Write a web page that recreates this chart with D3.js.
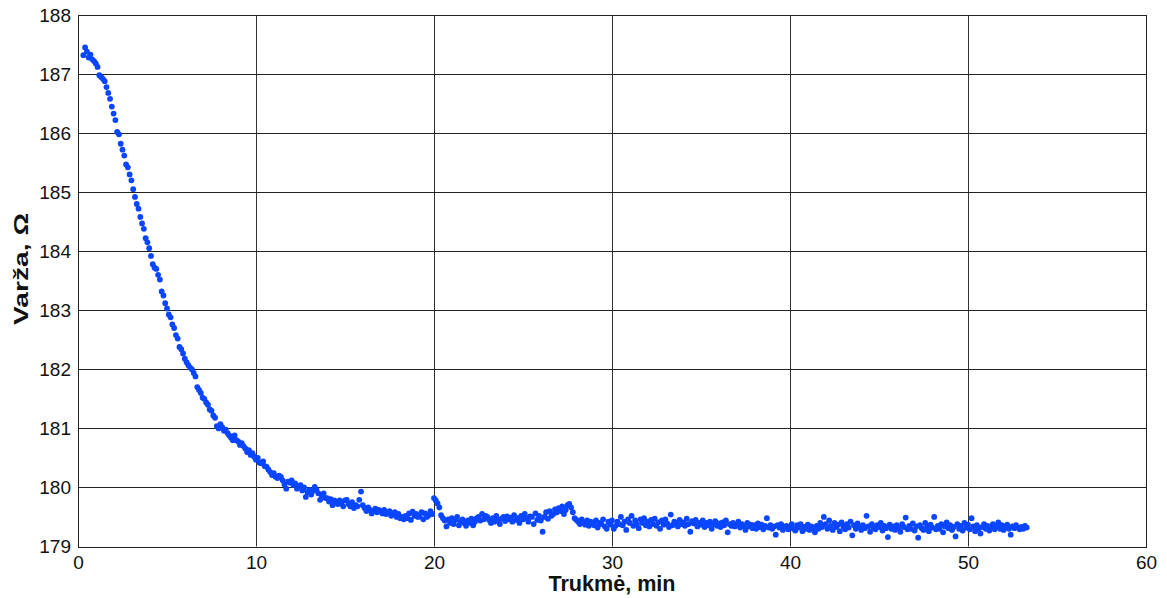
<!DOCTYPE html>
<html>
<head>
<meta charset="UTF-8">
<title>Varža vs trukmė</title>
<script src="https://d3js.org/d3.v7.min.js"></script>
<style>
  body { margin: 0; background: #fff; }
  svg { display: block; font-family: "Liberation Sans", Arial, sans-serif; }
</style>
</head>
<body>
<div id="chart"></div>
<script>
// axis ticks
var xTicks = [0, 10, 20, 30, 40, 50, 60];
var yTicks = [179, 180, 181, 182, 183, 184, 185, 186, 187, 188];

// measurement time, min (one row per minute)
var timeMin = [
  0.3, 0.4, 0.5, 0.6, 0.7, 0.8, 0.9,
  1.0, 1.1, 1.2, 1.3, 1.4, 1.5, 1.6, 1.7, 1.8, 1.9,
  2.0, 2.1, 2.2, 2.3, 2.4, 2.5, 2.6, 2.7, 2.8, 2.9,
  3.0, 3.1, 3.2, 3.3, 3.4, 3.5, 3.6, 3.7, 3.8, 3.9,
  4.0, 4.1, 4.2, 4.3, 4.4, 4.5, 4.6, 4.7, 4.8, 4.9,
  5.0, 5.1, 5.2, 5.3, 5.4, 5.5, 5.6, 5.7, 5.8, 5.9,
  6.0, 6.1, 6.2, 6.3, 6.4, 6.5, 6.6, 6.7, 6.8, 6.9,
  7.0, 7.1, 7.2, 7.3, 7.4, 7.5, 7.6, 7.7, 7.8, 7.9,
  8.0, 8.1, 8.2, 8.3, 8.4, 8.5, 8.6, 8.7, 8.8, 8.9,
  9.0, 9.1, 9.2, 9.3, 9.4, 9.5, 9.6, 9.7, 9.8, 9.9,
  10.0, 10.1, 10.2, 10.3, 10.4, 10.5, 10.6, 10.7, 10.8, 10.9,
  11.0, 11.1, 11.2, 11.3, 11.4, 11.5, 11.6, 11.7, 11.8, 11.9,
  12.0, 12.1, 12.2, 12.3, 12.4, 12.5, 12.6, 12.7, 12.8, 12.9,
  13.0, 13.1, 13.2, 13.3, 13.4, 13.5, 13.6, 13.7, 13.8, 13.9,
  14.0, 14.1, 14.2, 14.3, 14.4, 14.5, 14.6, 14.7, 14.8, 14.9,
  15.0, 15.1, 15.2, 15.3, 15.4, 15.5, 15.6, 15.7, 15.8, 15.9,
  16.0, 16.1, 16.2, 16.3, 16.4, 16.5, 16.6, 16.7, 16.8, 16.9,
  17.0, 17.1, 17.2, 17.3, 17.4, 17.5, 17.6, 17.7, 17.8, 17.9,
  18.0, 18.1, 18.2, 18.3, 18.4, 18.5, 18.6, 18.7, 18.8, 18.9,
  19.0, 19.1, 19.2, 19.3, 19.4, 19.5, 19.6, 19.7, 19.8, 19.9,
  20.0, 20.1, 20.2, 20.3, 20.4, 20.5, 20.6, 20.7, 20.8, 20.9,
  21.0, 21.1, 21.2, 21.3, 21.4, 21.5, 21.6, 21.7, 21.8, 21.9,
  22.0, 22.1, 22.2, 22.3, 22.4, 22.5, 22.6, 22.7, 22.8, 22.9,
  23.0, 23.1, 23.2, 23.3, 23.4, 23.5, 23.6, 23.7, 23.8, 23.9,
  24.0, 24.1, 24.2, 24.3, 24.4, 24.5, 24.6, 24.7, 24.8, 24.9,
  25.0, 25.1, 25.2, 25.3, 25.4, 25.5, 25.6, 25.7, 25.8, 25.9,
  26.0, 26.1, 26.2, 26.3, 26.4, 26.5, 26.6, 26.7, 26.8, 26.9,
  27.0, 27.1, 27.2, 27.3, 27.4, 27.5, 27.6, 27.7, 27.8, 27.9,
  28.0, 28.1, 28.2, 28.3, 28.4, 28.5, 28.6, 28.7, 28.8, 28.9,
  29.0, 29.1, 29.2, 29.3, 29.4, 29.5, 29.6, 29.7, 29.8, 29.9,
  30.0, 30.1, 30.2, 30.3, 30.4, 30.5, 30.6, 30.7, 30.8, 30.9,
  31.0, 31.1, 31.2, 31.3, 31.4, 31.5, 31.6, 31.7, 31.8, 31.9,
  32.0, 32.1, 32.2, 32.3, 32.4, 32.5, 32.6, 32.7, 32.8, 32.9,
  33.0, 33.1, 33.2, 33.3, 33.4, 33.5, 33.6, 33.7, 33.8, 33.9,
  34.0, 34.1, 34.2, 34.3, 34.4, 34.5, 34.6, 34.7, 34.8, 34.9,
  35.0, 35.1, 35.2, 35.3, 35.4, 35.5, 35.6, 35.7, 35.8, 35.9,
  36.0, 36.1, 36.2, 36.3, 36.4, 36.5, 36.6, 36.7, 36.8, 36.9,
  37.0, 37.1, 37.2, 37.3, 37.4, 37.5, 37.6, 37.7, 37.8, 37.9,
  38.0, 38.1, 38.2, 38.3, 38.4, 38.5, 38.6, 38.7, 38.8, 38.9,
  39.0, 39.1, 39.2, 39.3, 39.4, 39.5, 39.6, 39.7, 39.8, 39.9,
  40.0, 40.1, 40.2, 40.3, 40.4, 40.5, 40.6, 40.7, 40.8, 40.9,
  41.0, 41.1, 41.2, 41.3, 41.4, 41.5, 41.6, 41.7, 41.8, 41.9,
  42.0, 42.1, 42.2, 42.3, 42.4, 42.5, 42.6, 42.7, 42.8, 42.9,
  43.0, 43.1, 43.2, 43.3, 43.4, 43.5, 43.6, 43.7, 43.8, 43.9,
  44.0, 44.1, 44.2, 44.3, 44.4, 44.5, 44.6, 44.7, 44.8, 44.9,
  45.0, 45.1, 45.2, 45.3, 45.4, 45.5, 45.6, 45.7, 45.8, 45.9,
  46.0, 46.1, 46.2, 46.3, 46.4, 46.5, 46.6, 46.7, 46.8, 46.9,
  47.0, 47.1, 47.2, 47.3, 47.4, 47.5, 47.6, 47.7, 47.8, 47.9,
  48.0, 48.1, 48.2, 48.3, 48.4, 48.5, 48.6, 48.7, 48.8, 48.9,
  49.0, 49.1, 49.2, 49.3, 49.4, 49.5, 49.6, 49.7, 49.8, 49.9,
  50.0, 50.1, 50.2, 50.3, 50.4, 50.5, 50.6, 50.7, 50.8, 50.9,
  51.0, 51.1, 51.2, 51.3, 51.4, 51.5, 51.6, 51.7, 51.8, 51.9,
  52.0, 52.1, 52.2, 52.3, 52.4, 52.5, 52.6, 52.7, 52.8, 52.9,
  53.0, 53.1, 53.2, 53.3
];

// resistance, ohm (same rows as timeMin)
var resistance = [
  187.32, 187.45, 187.38, 187.28, 187.33, 187.25, 187.22,
  187.18, 187.12, 186.98, 186.95, 186.92, 186.88, 186.78, 186.68, 186.58, 186.45,
  186.33, 186.22, 186.02, 185.98, 185.82, 185.72, 185.62, 185.47, 185.42, 185.30,
  185.20, 185.05, 184.92, 184.80, 184.72, 184.58, 184.47, 184.38, 184.22, 184.15,
  184.05, 183.92, 183.78, 183.72, 183.70, 183.60, 183.52, 183.32, 183.25, 183.12,
  183.03, 182.93, 182.88, 182.76, 182.70, 182.58, 182.52, 182.38, 182.34, 182.27,
  182.18, 182.12, 182.07, 182.03, 182.00, 181.94, 181.88, 181.70, 181.65, 181.60,
  181.52, 181.50, 181.44, 181.40, 181.32, 181.30, 181.22, 181.18, 181.04, 181.00,
  181.07, 181.02, 180.96, 180.98, 180.92, 180.88, 180.84, 180.80, 180.88, 180.80,
  180.78, 180.72, 180.75, 180.70, 180.66, 180.60, 180.63, 180.55, 180.58, 180.52,
  180.47, 180.50, 180.42, 180.41, 180.44, 180.36, 180.35, 180.30, 180.26, 180.21,
  180.24, 180.18, 180.16, 180.20, 180.18, 180.12, 180.05, 179.98, 180.10, 180.08,
  180.12, 180.04, 180.07, 179.98, 180.02, 180.04, 179.95, 180.00, 179.84, 179.92,
  179.96, 179.88, 179.94, 180.01, 179.96, 179.90, 179.79, 179.86, 179.90, 179.82,
  179.82, 179.76, 179.80, 179.70, 179.78, 179.74, 179.72, 179.78, 179.73, 179.68,
  179.78, 179.79, 179.72, 179.68, 179.75, 179.65, 179.70, 179.68, 179.79, 179.93,
  179.70, 179.65, 179.60, 179.66, 179.62, 179.56, 179.60, 179.64, 179.58, 179.62,
  179.60, 179.56, 179.62, 179.55, 179.56, 179.60, 179.52, 179.56, 179.58, 179.50,
  179.55, 179.48, 179.50, 179.46, 179.52, 179.48, 179.56, 179.45, 179.59, 179.52,
  179.55, 179.50, 179.51, 179.58, 179.46, 179.56, 179.50, 179.53, 179.60, 179.55,
  179.82, 179.78, 179.73, 179.66, 179.53, 179.48, 179.44, 179.34, 179.46, 179.40,
  179.48, 179.38, 179.45, 179.50, 179.36, 179.42, 179.46, 179.40, 179.35, 179.44,
  179.40, 179.47, 179.36, 179.42, 179.48, 179.50, 179.44, 179.55, 179.46, 179.52,
  179.50, 179.45, 179.40, 179.48, 179.42, 179.52, 179.45, 179.38, 179.47, 179.50,
  179.43, 179.51, 179.46, 179.49, 179.42, 179.53, 179.45, 179.48, 179.40, 179.52,
  179.46, 179.55, 179.48, 179.42, 179.51, 179.50, 179.38, 179.56, 179.45, 179.52,
  179.44, 179.25, 179.50, 179.58, 179.47, 179.60, 179.52, 179.55, 179.63, 179.58,
  179.65, 179.60, 179.68, 179.55, 179.62, 179.70, 179.72, 179.66, 179.58, 179.48,
  179.45, 179.42, 179.38, 179.46, 179.40, 179.37, 179.44, 179.35, 179.42, 179.39,
  179.36, 179.44, 179.32, 179.40, 179.38, 179.46, 179.34, 179.30, 179.42, 179.37,
  179.44, 179.30, 179.35, 179.42, 179.38, 179.50, 179.36, 179.42, 179.28, 179.46,
  179.40, 179.52, 179.35, 179.44, 179.38, 179.31, 179.46, 179.40, 179.48, 179.36,
  179.42, 179.34, 179.45, 179.38, 179.47, 179.35, 179.41, 179.30, 179.44, 179.37,
  179.46, 179.39, 179.33, 179.54, 179.36, 179.42, 179.40, 179.34, 179.45, 179.38,
  179.41, 179.35, 179.47, 179.38, 179.25, 179.43, 179.39, 179.45, 179.34, 179.40,
  179.37, 179.44, 179.33, 179.40, 179.36, 179.42, 179.30, 179.38, 179.43, 179.35,
  179.39, 179.33, 179.41, 179.36, 179.44, 179.24, 179.38, 179.35, 179.40, 179.34,
  179.37, 179.42, 179.32, 179.38, 179.35, 179.28, 179.40, 179.34, 179.37, 179.31,
  179.36, 179.30, 179.39, 179.33, 179.37, 179.29, 179.35, 179.48, 179.32, 179.36,
  179.30, 179.34, 179.20, 179.36, 179.32, 179.38, 179.28, 179.33, 179.35, 179.29,
  179.34, 179.38, 179.30, 179.27, 179.36, 179.32, 179.38, 179.26, 179.33, 179.30,
  179.37, 179.28, 179.34, 179.31, 179.24, 179.35, 179.30, 179.40, 179.33, 179.50,
  179.38, 179.30, 179.44, 179.35, 179.28, 179.40, 179.33, 179.37, 179.26, 179.41,
  179.34, 179.29, 179.38, 179.32, 179.42, 179.19, 179.36, 179.30, 179.39, 179.33,
  179.28, 179.36, 179.31, 179.52, 179.34, 179.25, 179.38, 179.32, 179.29, 179.36,
  179.33, 179.40, 179.27, 179.35, 179.31, 179.16, 179.37, 179.30, 179.34, 179.28,
  179.36, 179.31, 179.25, 179.38, 179.33, 179.49, 179.29, 179.35, 179.30, 179.39,
  179.27, 179.34, 179.15, 179.36, 179.31, 179.28, 179.40, 179.33, 179.26, 179.37,
  179.32, 179.50, 179.29, 179.35, 179.30, 179.38, 179.24, 179.34, 179.41, 179.31,
  179.36, 179.28, 179.33, 179.17, 179.38, 179.30, 179.35, 179.27, 179.40, 179.32,
  179.37, 179.29, 179.48, 179.34, 179.26, 179.36, 179.31, 179.22, 179.33, 179.38,
  179.30, 179.35, 179.27, 179.33, 179.38, 179.29, 179.34, 179.41, 179.30, 179.36,
  179.28, 179.33, 179.37, 179.30, 179.20, 179.34, 179.31, 179.36, 179.32, 179.29,
  179.33, 179.30, 179.35, 179.32
];

var W = 1167, H = 598;
var plotLeft = 78, plotTop = 15, plotRight = 1146, plotBottom = 546.5;

var svg = d3.select("#chart").append("svg")
    .attr("width", W)
    .attr("height", H);

var x = d3.scaleLinear().domain([0, 60]).range([plotLeft, plotRight]);
var y = d3.scaleLinear().domain([179, 188]).range([plotBottom, plotTop]);

function crisp(v) { return Math.round(v) + 0.5; }

//grid lines
svg.append("g").selectAll("line")
    .data(xTicks.slice(1, -1))
    .enter().append("line")
    .attr("x1", function (d) { return crisp(x(d)); })
    .attr("x2", function (d) { return crisp(x(d)); })
    .attr("y1", plotTop).attr("y2", plotBottom)
    .attr("stroke", "#333").attr("stroke-width", 1);

svg.append("g").selectAll("line")
    .data(yTicks.slice(1, -1))
    .enter().append("line")
    .attr("x1", plotLeft).attr("x2", plotRight)
    .attr("y1", function (d) { return crisp(y(d)); })
    .attr("y2", function (d) { return crisp(y(d)); })
    .attr("stroke", "#222").attr("stroke-width", 1);

//data points
var points = d3.range(Math.min(timeMin.length, resistance.length)).map(function (i) {
    return { t: timeMin[i], r: resistance[i] };
});

svg.append("g").selectAll("circle")
    .data(points)
    .enter().append("circle")
    .attr("cx", function (d) { return x(d.t); })
    .attr("cy", function (d) { return y(d.r); })
    .attr("r", 2.9)
    .attr("fill", "#0a45ff");

//frame
svg.append("rect")
    .attr("x", crisp(plotLeft)).attr("y", crisp(plotTop))
    .attr("width", Math.round(plotRight - plotLeft))
    .attr("height", Math.round(plotBottom - plotTop))
    .attr("fill", "none").attr("stroke", "#222").attr("stroke-width", 1);

//tick labels through d3 axes (no tick lines, grid is drawn above)
var xAxis = d3.axisBottom(x).tickValues(xTicks).tickSize(0).tickPadding(9);
svg.append("g")
    .attr("transform", "translate(0," + plotBottom + ")")
    .call(xAxis)
    .call(function (g) { g.select(".domain").remove(); })
    .selectAll("text")
    .style("font-size", "19px")
    .style("fill", "#111")
    .style("font-family", "'Liberation Sans', Arial, sans-serif");

var yAxis = d3.axisLeft(y).tickValues(yTicks).tickSize(0).tickPadding(7);
svg.append("g")
    .attr("transform", "translate(" + plotLeft + ",0)")
    .call(yAxis)
    .call(function (g) { g.select(".domain").remove(); })
    .selectAll("text")
    .style("font-size", "19px")
    .style("fill", "#111")
    .style("font-family", "'Liberation Sans', Arial, sans-serif");

//axis titles
svg.append("text")
    .attr("x", 612)
    .attr("y", 591)
    .attr("text-anchor", "middle")
    .attr("textLength", 127)
    .attr("lengthAdjust", "spacingAndGlyphs")
    .style("font-size", "22px")
    .style("font-weight", "bold")
    .style("fill", "#111")
    .text("Trukmė, min");

svg.append("text")
    .attr("transform", "translate(28,269) rotate(-90)")
    .attr("text-anchor", "middle")
    .attr("textLength", 112)
    .attr("lengthAdjust", "spacingAndGlyphs")
    .style("font-size", "21px")
    .style("font-weight", "bold")
    .style("fill", "#111")
    .text("Varža, Ω");
</script>
</body>
</html>
